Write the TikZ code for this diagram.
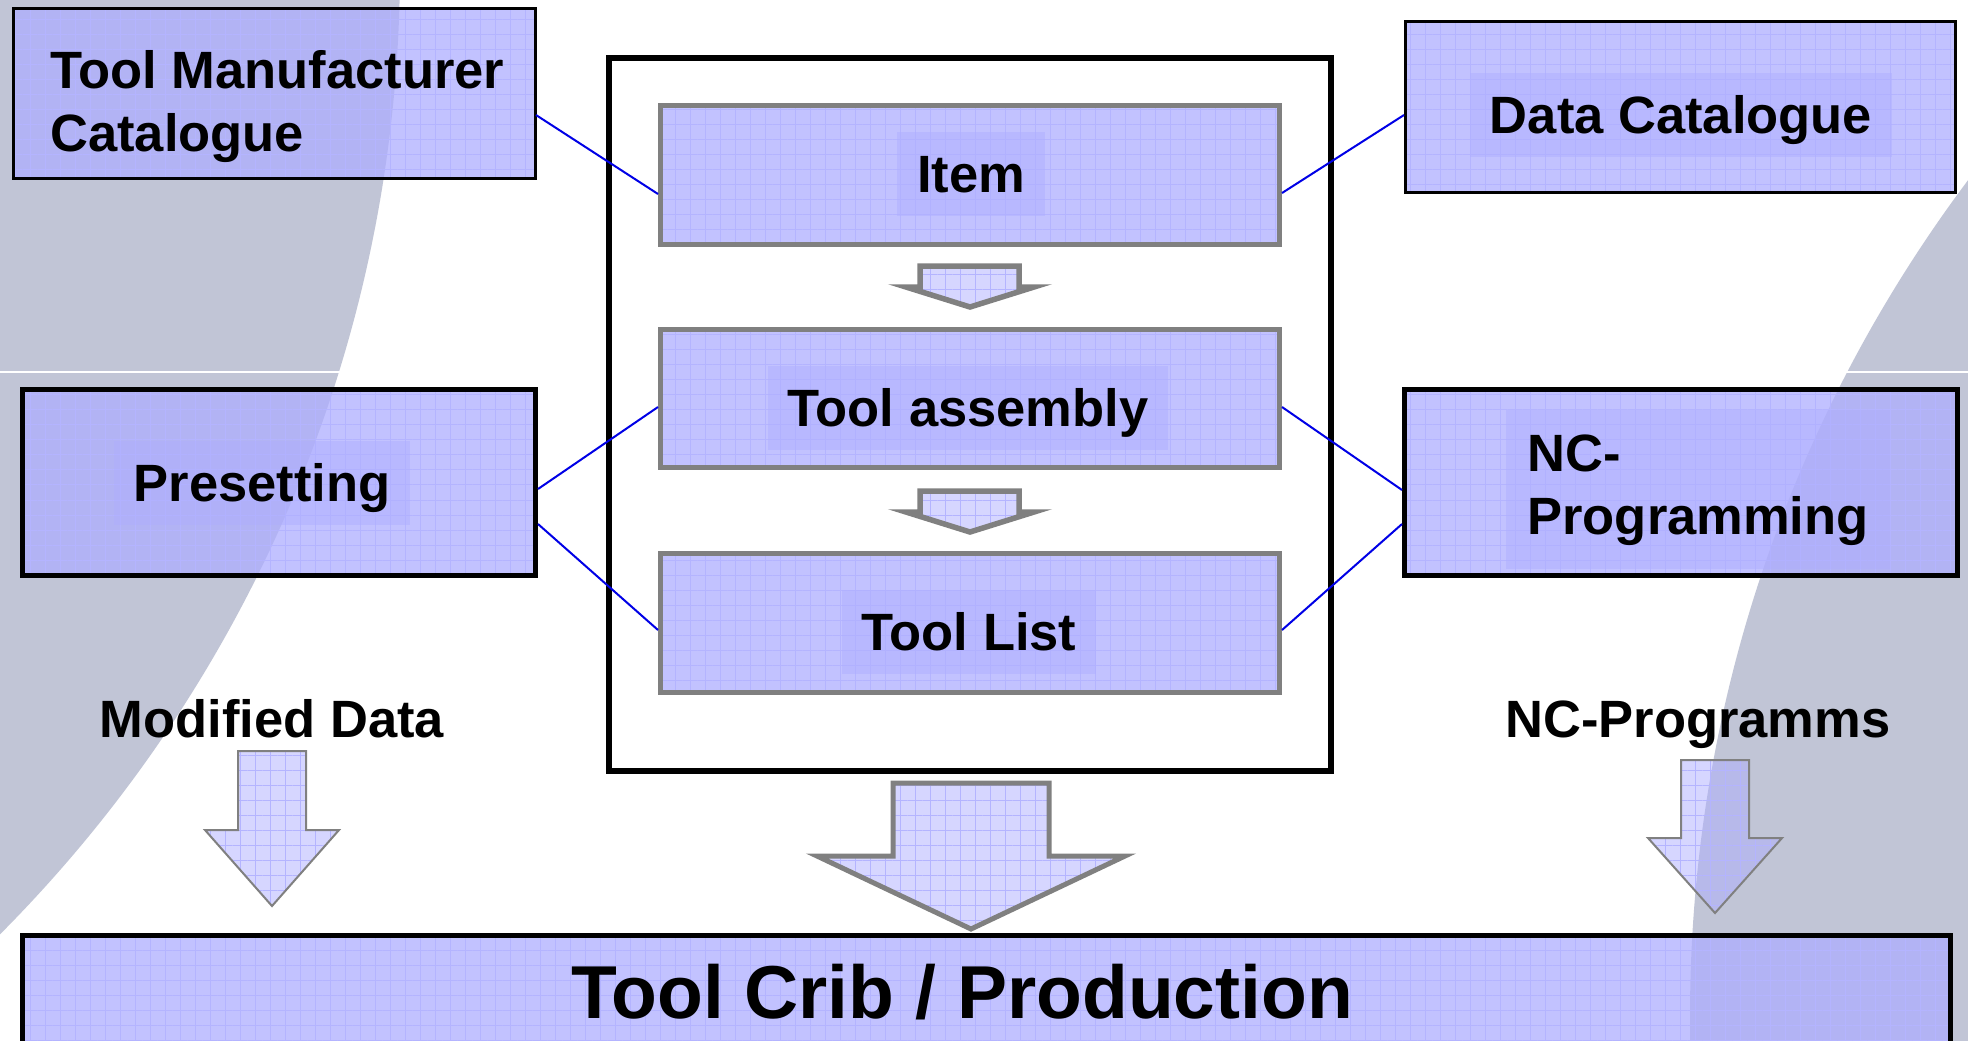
\documentclass[tikz,border=0pt]{standalone}
\usepackage{fontspec}
\setmainfont{Liberation Sans}
\usetikzlibrary{calc,patterns.meta}

\definecolor{greybg}{RGB}{193,197,214}
\definecolor{boxfill}{RGB}{174,174,255}
\definecolor{gridblue}{RGB}{180,180,255}
\definecolor{linkblue}{RGB}{0,0,230}
\definecolor{arrowgray}{RGB}{128,128,128}

\newcommand\lblfont{\fontsize{26.25}{31.5}\selectfont\bfseries}
\newcommand\cribfont{\fontsize{37.5}{45}\selectfont\bfseries}

\begin{document}
\begin{tikzpicture}[x=0.5pt, y=-0.5pt,
    meshfill/.style = {pattern={Hatch[angle=0, distance=7.5pt, line width=0.5pt]},
        pattern color=gridblue},
    outerbox/.style = {draw=black, line width=1.5pt, preaction={fill=boxfill, fill opacity=0.75},
        meshfill, inner sep=0pt},
    thickbox/.style = {outerbox, line width=2.5pt},
    stepbox/.style = {outerbox, draw=arrowgray, line width=2.5pt, minimum width=309.5pt, minimum height=69.5pt},
    frame/.style = {draw=black, line width=3pt, inner sep=0pt},
    lbl/.style = {font=\lblfont, text height=18.9pt, text depth=0pt, inner xsep=10pt, inner ysep=11.55pt},
    lblbg/.style = {lbl, fill=boxfill, fill opacity=0.45, text opacity=1},
    blockarrow/.style = {draw=arrowgray, preaction={fill=boxfill, fill opacity=0.5}, meshfill},
    link/.style = {draw=linkblue, line width=1pt}
    ]
    \useasboundingbox (0,0) rectangle (1968,1040);
    \clip (0,0) rectangle (1968,1040);

    % slide background
    \fill[white] (0,0) rectangle (1968,1040);
    \fill[greybg] (-972,-34) circle[radius=1372];
    \fill[greybg] (3085,1016) circle[radius=1395];
    \draw[white, line width=1pt] (0,372) -- (1968,372);

    % outer boxes
    \node[outerbox, minimum width=261pt, minimum height=85pt] (tmc) at (274.5,93.5) {};
    \node[outerbox, minimum width=275pt, minimum height=85.5pt] (dc) at (1680.5,107) {};
    \node[thickbox, minimum width=256.5pt, minimum height=93pt] (pre) at (279,482.5) {};
    \node[thickbox, minimum width=276.5pt, minimum height=93pt] (nc) at (1681,482.5) {};
    \node[thickbox, minimum width=964pt, minimum height=62.25pt] (crib) at (986.5,997.75) {};

    % data base
    \node[frame, minimum width=361pt, minimum height=356.5pt] (db) at (970,414.5) {};
    \node[stepbox] (item) at (970,175) {};
    \node[stepbox, minimum height=69pt] (asm) at (970,398.5) {};
    \node[stepbox] (list) at (970,623) {};

    % block arrows
    \draw[blockarrow, line width=2.75pt] (920,266) -- (1019,266) -- (1019,287) -- (1034,287)
        -- (970,307) -- (906,287) -- (920,287) -- cycle;
    \draw[blockarrow, line width=2.75pt] (920,491) -- (1019,491) -- (1019,512) -- (1034,512)
        -- (970,532) -- (906,512) -- (920,512) -- cycle;
    \draw[blockarrow, line width=2.5pt] (893,783) -- (1049,783) -- (1049,856) -- (1125,856)
        -- (971,929) -- (817,856) -- (893,856) -- cycle;
    \draw[blockarrow, line width=1pt] (238,751) -- (306,751) -- (306,830) -- (339,830)
        -- (272,906) -- (205,830) -- (238,830) -- cycle;
    \draw[blockarrow, line width=1pt] (1681,760) -- (1749,760) -- (1749,838) -- (1782,838)
        -- (1715,913) -- (1648,838) -- (1681,838) -- cycle;

    % labels
    \node[lbl, inner sep=0pt, anchor=north west, align=left, text height=, text depth=] (tmclbl) at (50,50)
        {Tool Manufacturer\\Catalogue};
    \node[lblbg] (dclbl) at (1681,115) {Data Catalogue};
    \node[lblbg] (itemlbl) at (971,174) {Item};
    \node[lblbg] (asmlbl) at (968,408) {Tool assembly};
    \node[lblbg] (listlbl) at (969,631.5) {Tool List};
    \node[lblbg] (prelbl) at (262,483) {Presetting};
    \node[lblbg, anchor=north west, align=left, text height=, text depth=, inner xsep=10.5pt, inner ysep=12pt]
        (nclbl) at (1506,410) {NC-\\Programming};
    \node[lbl] (modlbl) at (272,719) {Modified Data};
    \node[lbl] (progslbl) at (1698,719) {NC-Programms};
    \node[font=\cribfont, text height=27pt, text depth=0pt, inner sep=0pt] (criblbl) at (962,991)
        {Tool Crib / Production};

    % links
    \draw[link] (tmc.east |- 0,115) -- (item.west |- 0,194);
    \draw[link] (dc.west |- 0,115) -- (item.east |- 0,193);
    \draw[link] (pre.east |- 0,489) -- (asm.west |- 0,407);
    \draw[link] (pre.east |- 0,524) -- (list.west |- 0,630);
    \draw[link] (nc.west |- 0,490) -- (asm.east |- 0,407);
    \draw[link] (nc.west |- 0,524) -- (list.east |- 0,630);
\end{tikzpicture}
\end{document}
